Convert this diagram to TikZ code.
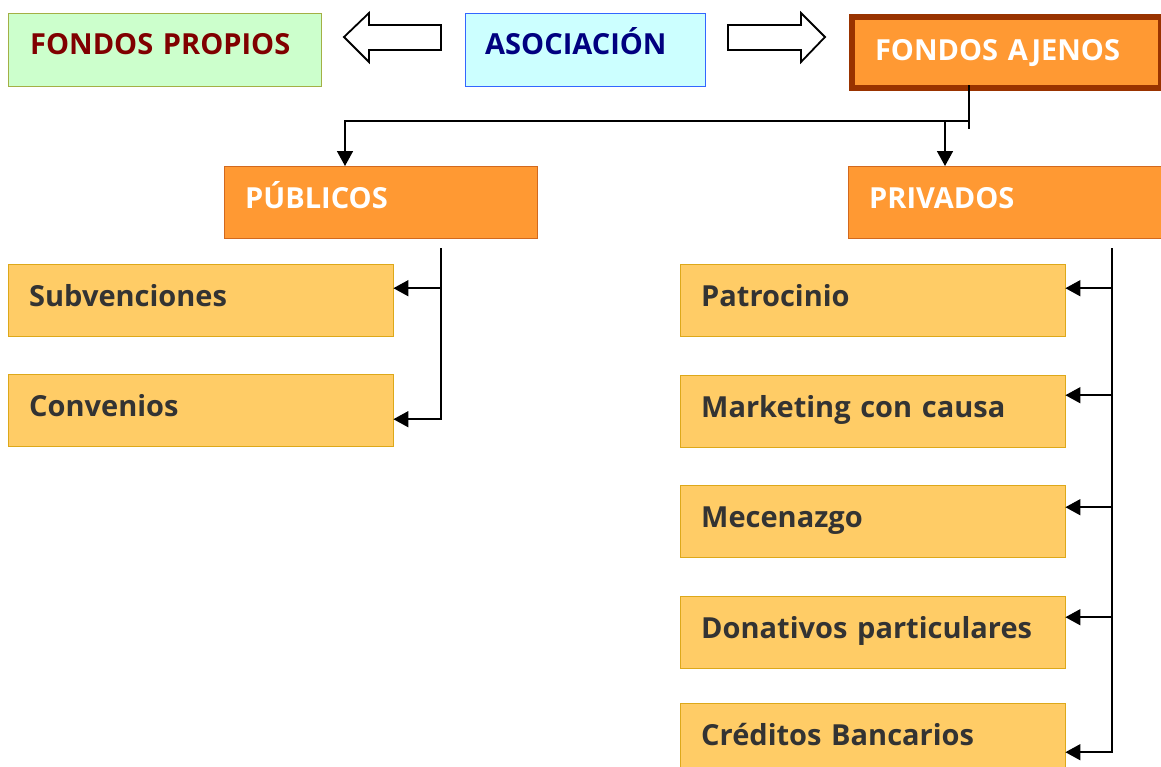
\documentclass[tikz,border=0pt]{standalone}
\usepackage{fontspec}
\setmainfont{Open Sans}
\usetikzlibrary{arrows.meta}

\definecolor{verdeclaro}{HTML}{CCFFCC}
\definecolor{verdeborde}{HTML}{A3B045}
\definecolor{granate}{HTML}{800000}
\definecolor{celeste}{HTML}{CCFFFF}
\definecolor{celesteborde}{HTML}{3366FF}
\definecolor{marino}{HTML}{000080}
\definecolor{naranja}{HTML}{FF9933}
\definecolor{naranjaborde}{HTML}{D2691E}
\definecolor{marron}{HTML}{993300}
\definecolor{amarillo}{HTML}{FFCC66}
\definecolor{amarilloborde}{HTML}{DDA81A}
\definecolor{grisoscuro}{HTML}{333333}

\begin{document}
\begin{tikzpicture}[x=1pt,y=-1pt]
\tikzset{caja/.style={draw, anchor=north west, inner ysep=0pt, align=left,
    font=\fontsize{29}{35}\selectfont\bfseries, text height=23pt, text depth=11pt},
  cabecera/.style={caja, minimum height=73pt, text height=22pt, text depth=13pt},
  rama/.style={caja, fill=naranja, draw=naranjaborde, text=white, inner xsep=21pt,
    text width=271pt, minimum height=72pt},
  hoja/.style={caja, fill=amarillo, draw=amarilloborde, text=grisoscuro, inner xsep=21pt,
    text width=343pt, minimum height=72pt},
  flecha/.style={-{Triangle[length=15pt,width=16pt]}, line width=1.6pt},
  gruesa/.style={draw, line width=1.8pt, fill=white, line join=miter}}
\useasboundingbox (0,0) rectangle (1161,766);
\clip (0,0) rectangle (1161,766);

% fila de arriba
\node[cabecera, fill=verdeclaro, draw=verdeborde, text=granate, inner xsep=22pt, text width=269pt] (propios) at (8,13) {\mbox{FONDOS PROPIOS}};
\node[cabecera, fill=celeste, draw=celesteborde, text=marino, inner xsep=20pt, text width=200pt] (asoc) at (465,13) {\mbox{ASOCIACIÓN}};
\node[caja, fill=naranja, draw=marron, line width=6pt, text=white, inner xsep=23pt, text width=263pt,
  minimum height=71pt, text height=22pt, text depth=7pt] (ajenos) at (849,14) {\mbox{FONDOS AJENOS}};

% flechas gordas
\draw[gruesa] (441,25) -- (369,25) -- (369,13) -- (344,37) -- (369,62) -- (369,50) -- (441,50) -- cycle;
\draw[gruesa] (728,25) -- (801,25) -- (801,13) -- (825,37) -- (801,62) -- (801,50) -- (728,50) -- cycle;

% ramas
\node[rama] (publicos) at (224,166) {PÚBLICOS};
\node[rama] (privados) at (848,166) {PRIVADOS};

\coordinate (eje) at (969,121);
\draw[line width=1.6pt] ([yshift=6pt]ajenos.south -| eje) -- ([yshift=-8pt]eje);
\draw[flecha] (eje) -| ([xshift=121pt]publicos.north west);
\draw[flecha] ([xshift=97pt]privados.north west |- eje) -- ([xshift=97pt]privados.north west);

% hojas de la izquierda
\node[hoja] (subv) at (8,264) {Subvenciones};
\node[hoja] (conv) at (8,374) {Convenios};

\coordinate (lomoI) at (441,248);
\draw[flecha] (lomoI) |- ([yshift=-9pt]conv.east);
\draw[flecha] ([yshift=12pt]subv.east -| lomoI) -- ([yshift=12pt]subv.east);

% hojas de la derecha
\node[hoja] (patro) at (680,264) {Patrocinio};
\node[hoja] (marke) at (680,375) {Marketing con causa};
\node[hoja] (mecen) at (680,485) {Mecenazgo};
\node[hoja] (donat) at (680,596) {Donativos particulares};
\node[hoja] (credi) at (680,703) {Créditos Bancarios};

\coordinate (lomoD) at (1112,248);
\draw[flecha] (lomoD) |- ([yshift=-13pt]credi.east);
\draw[flecha] ([yshift=12pt]patro.east -| lomoD) -- ([yshift=12pt]patro.east);
\draw[flecha] ([yshift=16pt]marke.east -| lomoD) -- ([yshift=16pt]marke.east);
\draw[flecha] ([yshift=14pt]mecen.east -| lomoD) -- ([yshift=14pt]mecen.east);
\draw[flecha] ([yshift=15pt]donat.east -| lomoD) -- ([yshift=15pt]donat.east);
\end{tikzpicture}
\end{document}
